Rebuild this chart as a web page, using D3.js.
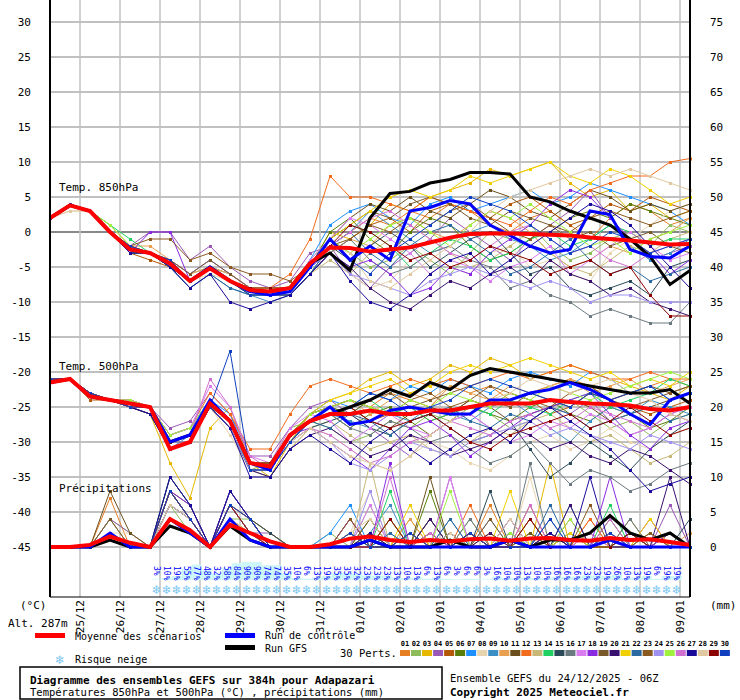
<!DOCTYPE html>
<html><head><meta charset="utf-8">
<script src="https://cdn.jsdelivr.net/npm/d3@7"></script>
<style>body{margin:0;background:#fff}svg{font-family:"DejaVu Sans Mono",monospace}</style>
</head><body><svg id="c" width="740" height="700"></svg>
<script>
const hours = d3.range(0, 385, 12);
const dateLabels = ["25/12","26/12","27/12","28/12","29/12","30/12","31/12","01/01","02/01","03/01","04/01","05/01","06/01","07/01","08/01","09/01"];
const leftTicks = [30,25,20,15,10,5,0,-5,-10,-15,-20,-25,-30,-35,-40,-45];
const rightTicks = [75,70,65,60,55,50,45,40,35,30,25,20,15,10,5,0];
const memberColors = ["#e67e22","#8fbc5a","#e6b800","#9b59b6","#b35806","#5a7d0a","#1e90ff","#e8d5b0","#3b8fc4","#e8a050","#6b4f1d","#f26b1d","#c8b878","#20d060","#2a4a5a","#6a7a80","#d97cf0","#8a2be2","#7a5a2a","#3a1070","#f0d000","#2a6aa0","#8a5a20","#a090f0","#a0f040","#d070d0","#1a0a9a","#e0c8a0","#8b0000","#1040c0"];
const snowPct = [3,10,19,55,77,48,32,58,84,90,90,74,74,35,10,6,13,19,35,35,32,23,23,23,13,10,13,6,13,6,3,6,6,3,16,10,10,13,10,10,16,16,16,23,23,19,26,10,13,19,6,19,19];

const meanT850 = [2,3.8,3,0,-2.5,-3,-4.5,-7,-5.2,-7,-8.3,-8.5,-8,-4.5,-2.2,-2.3,-2.8,-2.5,-2.2,-1.5,-0.8,-0.3,-0.2,-0.2,-0.3,-0.4,-0.5,-0.8,-1,-1.2,-1.5,-1.8,-1.7];
const gfsT850 = [2,3.8,3,0,-2.5,-3,-4.5,-7,-5,-7,-8.5,-8.5,-8,-4.5,-3,-5.5,2,5.5,5.8,7,7.5,8.5,8.5,8.3,5,4.3,3,2,1,-1,-3.5,-7.5,-5.5];
const ctlT850 = [2,3.8,3,0,-2.5,-3,-4.5,-7,-5,-7,-8.5,-9,-8.5,-5,-1,-4,-2,-4,3,3.5,4.5,4,1,-0.5,-2,-3,-2.5,3,2.5,-2.5,-3.5,-3.7,-2];
const meanT500 = [-21.5,-21,-23.5,-24,-24.5,-25,-31,-30,-24.5,-27,-33,-33.5,-29,-27,-26,-26,-25.5,-26,-26,-25.5,-25.5,-25,-24.5,-24.5,-24.5,-24,-24.3,-24.5,-24.6,-24.8,-25.3,-25.5,-25];
const gfsT500 = [-21.5,-21,-23.5,-24,-24.5,-25,-30,-29,-24.5,-27,-33,-33.5,-29,-27,-26,-25,-24,-22.5,-23.5,-21.5,-22.5,-20.5,-19.5,-20,-20.5,-21,-21.5,-22,-22.5,-23,-23,-22.5,-24.5];
const ctlT500 = [-21.5,-21,-23.5,-24,-24.5,-25,-30,-29,-24,-27,-33,-34,-29,-27,-25,-27.5,-27,-25.5,-25,-25.5,-26,-26,-24,-24,-23,-22.5,-21.5,-22.5,-24,-26,-27.5,-24,-23];
const meanPrecip = [0,0,0.3,1.5,0.6,0,4,2.4,0,3.2,2,0.8,0,0,0.4,1.2,1.5,1,0.7,1,0.8,1.1,1.2,0.9,1.2,1.3,1,0.9,1.3,1,1.1,0.7,0.3];
const gfsPrecip = [0,0,0,1,0,0,3,2,0,3,1,0,0,0,0,0,1,0,0,0,1,0,0,1,0,1,1,2,4.5,2,1,2,0];
const ctlPrecip = [0,0,0,2,0,0,4,2,0,4,1,0,0,0,0,0,1,0,0,0,0,0,0,1,0,0,0,0,1,0,0,0,0];

const pertT850 = [
"2 4 3 0 -3 -3 -5 -7 -5 -7 -8 -9 -8 -5 -2 0 2 1 3 2 4 3 1 0 2 3 1 -1 2 4 3 1 2",
"2 4 3 0 -2 -3 -4 -6 -5 -7 -9 -9 -8 -4 -1 -3 -5 -4 -2 -4 -6 -3 0 -1 1 -2 -4 -3 -1 0 -2 1 0",
"2 4 3 1 -2 -3 -4 -7 -5 -7 -8 -8 -8 -5 0 -1 1 4 3 5 6 7 9 8 9 10 7 5 6 3 4 2 3",
"2 4 3 0 -2 0 0 -4 -2 -5 -7 -8 -7 -3 -2 -6 -8 -5 -3 -1 2 0 -2 -4 -1 1 3 6 2 -1 -4 -3 -2",
"2 4 3 0 -3 -4 -5 -7 -5 -6 -8 -9 -9 -6 -3 -1 1 2 0 3 4 3 2 4 5 3 1 2 4 3 5 4 3",
"2 4 3 0 -2 -3 -5 -7 -5 -7 -8 -8 -8 -5 0 2 -1 -3 0 2 1 -2 -4 -3 -1 0 2 3 2 4 3 2 1",
"2 4 3 0 -2 -3 -4 -6 -4 -6 -8 -9 -8 -4 1 3 4 2 1 4 5 3 4 5 6 4 5 7 6 5 4 3 1",
"2 3 3 1 -2 -3 -4 -7 -6 -7 -9 -9 -9 -6 -3 -6 -8 -7 -4 -3 -5 -6 -3 -2 -5 -4 -6 -7 -3 -1 1 3 4",
"2 4 3 0 -2 -3 -5 -8 -6 -8 -9 -10 -9 -6 -2 0 3 1 -1 -3 -2 0 1 -1 -2 -4 -3 -1 1 -2 -4 -3 -1",
"2 4 3 0 -2 -2 -4 -6 -5 -6 -8 -8 -8 -5 -3 -1 -2 1 2 0 -1 1 3 2 0 -3 -5 -4 -2 -3 -1 0 2",
"2 4 3 0 -3 -3 -5 -7 -5 -7 -8 -9 -8 -5 -1 2 4 3 5 3 2 4 6 5 3 2 4 6 5 3 4 3 4",
"2 4 3 0 -2 -3 -4 -7 -5 -7 -8 -8 -6 -1 8 5 5 4 3 5 4 3 2 1 3 5 4 6 7 8 8 10 10.5",
"2 4 3 0 -2 -3 -5 -7 -5 -6 -8 -9 -9 -6 -4 -6 -3 -1 1 -1 -3 -5 -4 -2 0 -3 -5 -6 -4 -2 -3 -1 0",
"2 4 3 1 -1 -3 -4 -7 -5 -7 -8 -8 -8 -5 -1 1 0 -2 -5 -3 -1 -2 -4 -3 -1 0 -2 -1 1 0 -2 -1 -1",
"2 4 3 0 -3 -3 -5 -7 -5 -7 -9 -9 -8 -5 -2 -4 -2 0 -2 -5 -3 -1 0 -3 -6 -5 -8 -9 -8 -7 -9 -5 -4",
"2 4 3 0 -2 -3 -4 -7 -5 -7 -8 -9 -9 -6 -3 -1 -4 -6 -5 -3 -2 -4 -5 -8 -7 -9 -10 -12 -11 -12 -13 -13 -10",
"2 4 3 0 -2 -3 -4 -6 -4 -6 -8 -8 -8 -4 -1 2 1 -1 -3 -6 -4 -5 -7 -5 -4 -2 -6 -4 -2 0 -2 -4 -3",
"2 4 3 0 -3 0 0 -7 -5 -7 -8 -9 -8 -5 -3 -5 -4 -6 -9 -8 -5 -6 -3 -1 1 4 6 5 2 -1 -3 -6 -4",
"2 4 3 0 -2 -3 -4 -6 -4 -6 -8 -8 -8 -5 -1 1 3 2 4 5 4 2 1 3 2 1 -1 0 -2 -1 0 -2 -3",
"2 4 3 0 -2 -3 -5 -7 -5 -7 -8 -9 -9 -6 -3 -5 -8 -10 -11 -9 -7 -8 -6 -5 -7 -4 -6 -7 -9 -8 -10 -11 -12",
"2 4 3 0 -2 -3 -4 -7 -5 -7 -8 -8 -8 -5 -1 1 3 5 6 5 6 8 7 8 9 10 8 7 9 8 6 4 5",
"2 4 3 0 -3 -3 -5 -8 -6 -8 -9 -9 -9 -6 -2 0 -3 -5 -2 0 1 -1 -3 -6 -5 -3 -1 -4 -6 -5 -7 -6 -5",
"2 4 3 0 -2 -1 -1 -4 -3 -5 -6 -6 -7 -5 -2 -1 1 0 2 1 3 4 2 0 -1 1 0 2 3 2 1 2 3",
"2 4 3 0 -2 -3 -4 -7 -5 -7 -8 -9 -8 -5 -3 -6 -7 -8 -9 -7 -6 -5 -6 -7 -8 -7 -8 -10 -9 -9 -10 -10 -10",
"2 4 3 1 -2 -3 -4 -7 -5 -7 -8 -8 -8 -5 -1 -3 -1 1 2 0 -2 1 3 2 4 2 0 -2 -1 -3 -1 0 1",
"2 4 3 0 -2 -3 -4 -7 -5 -7 -8 -9 -8 -5 -2 0 2 3 1 -1 -3 -4 -2 0 1 -1 -3 -2 -4 -5 -3 -2 -1",
"2 4 3 0 -3 -3 -5 -8 -6 -10 -11 -10 -9 -6 -3 -7 -10 -11 -9 -6 -4 -3 -6 -4 -2 0 2 4 3 1 -2 -5 -8",
"2 3 3 0 -2 -3 -4 -7 -5 -7 -8 -8 -8 -5 -2 -3 -7 -8 -6 -4 -2 0 3 5 6 7 8 9 8 9 8 7 6",
"2 4 3 0 -2 -3 -4 -7 -5 -7 -8 -8 -8 -5 -2 1 0 -2 -4 -3 -5 -4 -2 -3 -4 -6 -5 -4 -6 -5 -9 -12 -12",
"2 4 3 0 -2 -3 -4 -7 -5 -7 -9 -9 -8 -5 -1 -4 -6 -3 -1 1 3 5 4 3 1 -1 -3 -2 0 -1 -3 -2 -1"];

const pertT500 = [
"-21 -21 -23 -24 -25 -25 -31 -30 -24 -27 -33 -34 -29 -26 -25 -24 -25 -23 -24 -25 -22 -23 -22 -24 -23 -22 -21 -22 -24 -23 -22 -21 -22",
"-21 -21 -23 -24 -24 -25 -29 -28 -25 -28 -34 -33 -28 -27 -28 -30 -29 -27 -28 -26 -27 -25 -26 -28 -27 -25 -24 -26 -28 -27 -29 -27 -26",
"-21 -21 -23 -24 -25 -26 -33 -38 -28 -25 -33 -35 -30 -26 -24 -23 -21 -20 -22 -21 -19 -20 -18 -19 -21 -20 -19 -20 -21 -22 -23 -24 -22",
"-21 -21 -23 -24 -24 -25 -28 -27 -23 -26 -32 -32 -28 -25 -24 -26 -28 -30 -32 -29 -27 -26 -28 -30 -27 -25 -26 -24 -27 -29 -28 -26 -27",
"-21 -21 -24 -24 -25 -25 -30 -29 -24 -27 -33 -34 -29 -27 -26 -25 -27 -26 -25 -27 -26 -24 -25 -23 -24 -26 -25 -23 -24 -25 -26 -25 -24",
"-21 -21 -23 -24 -25 -25 -31 -30 -25 -27 -34 -34 -30 -27 -26 -28 -26 -25 -27 -29 -27 -25 -26 -27 -25 -24 -26 -27 -25 -26 -28 -27 -25",
"-21 -21 -23 -24 -24 -25 -29 -28 -24 -26 -33 -33 -29 -26 -24 -25 -23 -24 -22 -23 -21 -22 -23 -21 -20 -21 -22 -20 -21 -23 -22 -24 -23",
"-21 -21 -23 -24 -25 -25 -30 -30 -25 -29 -34 -35 -31 -28 -29 -31 -33 -34 -32 -30 -31 -33 -34 -32 -30 -29 -31 -30 -28 -30 -31 -29 -28",
"-21 -21 -23 -24 -25 -26 -31 -29 -24 -27 -33 -34 -30 -27 -26 -27 -28 -26 -27 -25 -26 -27 -25 -24 -26 -28 -30 -27 -25 -26 -24 -25 -26",
"-21 -21 -23 -24 -24 -25 -30 -29 -24 -27 -33 -33 -29 -26 -25 -24 -26 -24 -23 -24 -22 -23 -24 -22 -23 -22 -21 -23 -22 -21 -23 -22 -21",
"-21 -21 -23 -24 -25 -26 -30 -30 -25 -28 -34 -34 -29 -27 -26 -25 -27 -28 -26 -25 -26 -24 -25 -27 -26 -25 -24 -25 -27 -26 -25 -24 -23",
"-21 -21 -23 -24 -24 -25 -29 -28 -23 -26 -31 -31 -26 -22 -21 -22 -23 -22 -21 -22 -21 -22 -21 -20 -21 -20 -19 -20 -21 -21 -20 -21 -21",
"-21 -21 -23 -24 -25 -25 -31 -30 -25 -28 -34 -35 -31 -28 -27 -29 -31 -30 -29 -31 -32 -30 -28 -29 -27 -26 -28 -30 -29 -31 -33 -32 -30",
"-21 -21 -23 -24 -25 -25 -30 -29 -24 -27 -33 -33 -29 -27 -25 -26 -24 -26 -25 -27 -26 -25 -26 -24 -25 -26 -24 -23 -25 -24 -23 -21 -22",
"-21 -21 -23 -24 -25 -25 -31 -30 -25 -28 -34 -34 -30 -28 -27 -26 -28 -29 -27 -26 -28 -30 -29 -27 -31 -35 -33 -30 -32 -34 -31 -29 -27",
"-21 -21 -23 -24 -25 -25 -30 -30 -25 -27 -33 -34 -30 -27 -26 -28 -29 -27 -28 -30 -29 -31 -33 -32 -30 -33 -36 -34 -35 -37 -36 -34 -33",
"-21 -21 -23 -24 -24 -25 -29 -28 -22 -25 -32 -33 -28 -26 -27 -30 -28 -26 -28 -29 -27 -26 -28 -30 -29 -27 -28 -26 -27 -29 -28 -26 -25",
"-21 -21 -23 -24 -25 -25 -30 -29 -24 -27 -33 -34 -29 -28 -30 -32 -34 -31 -28 -27 -29 -32 -30 -28 -26 -25 -24 -23 -26 -29 -31 -28 -27",
"-21 -21 -23 -24 -25 -25 -30 -29 -24 -27 -33 -33 -29 -26 -25 -26 -24 -23 -25 -24 -23 -22 -24 -25 -23 -24 -25 -23 -24 -25 -24 -23 -22",
"-21 -21 -23 -24 -25 -26 -31 -30 -25 -28 -34 -35 -31 -29 -28 -30 -32 -31 -29 -30 -32 -31 -30 -28 -29 -31 -30 -32 -33 -31 -32 -34 -36",
"-21 -21 -23 -24 -25 -25 -30 -29 -24 -27 -33 -34 -29 -26 -24 -23 -22 -21 -23 -22 -20 -19 -20 -19 -18 -19 -20 -21 -20 -22 -21 -22 -20",
"-21 -21 -23 -24 -25 -25 -31 -30 -25 -28 -34 -34 -30 -27 -28 -26 -27 -29 -27 -26 -25 -27 -28 -26 -27 -25 -26 -28 -27 -26 -25 -27 -26",
"-21 -21 -23 -24 -25 -25 -30 -29 -24 -27 -33 -33 -29 -26 -25 -24 -25 -26 -24 -23 -25 -24 -22 -23 -24 -25 -23 -22 -24 -23 -22 -23 -22",
"-21 -21 -23 -24 -25 -25 -30 -30 -25 -28 -34 -34 -30 -28 -30 -33 -34 -32 -30 -31 -32 -30 -29 -28 -27 -29 -28 -29 -30 -31 -29 -30 -31",
"-21 -21 -23 -24 -24 -25 -29 -28 -24 -27 -33 -33 -29 -26 -25 -24 -25 -26 -24 -25 -23 -24 -25 -23 -24 -22 -23 -24 -23 -22 -21 -20 -21",
"-21 -21 -23 -24 -25 -25 -30 -29 -21 -25 -32 -34 -30 -28 -29 -31 -33 -32 -30 -29 -27 -28 -29 -27 -26 -28 -27 -25 -26 -27 -28 -26 -25",
"-21 -21 -23 -24 -25 -26 -31 -30 -25 -28 -35 -35 -31 -29 -31 -33 -30 -28 -31 -33 -31 -29 -28 -30 -27 -25 -27 -29 -31 -34 -37 -36 -35",
"-21 -21 -23 -24 -25 -25 -30 -29 -24 -27 -33 -34 -30 -28 -30 -32 -33 -34 -32 -29 -27 -25 -24 -23 -21 -22 -23 -22 -21 -23 -24 -26 -27",
"-21 -21 -23 -24 -25 -25 -30 -29 -24 -27 -33 -33 -29 -27 -26 -25 -27 -28 -27 -26 -28 -30 -31 -29 -28 -27 -26 -28 -27 -25 -27 -29 -28",
"-21 -21 -23 -24 -25 -25 -31 -30 -25 -17 -34 -34 -30 -27 -26 -25 -23 -24 -26 -25 -24 -22 -21 -22 -23 -24 -25 -23 -24 -23 -22 -24 -23"];

const pertPrecip = [
"0 0 0 7 0 0 8 4 0 6 2 0 0 0 0 2 0 4 0 2 0 0 6 0 2 0 0 4 0 2 0 0 0",
"0 0 0 4 2 0 6 2 0 4 4 2 0 0 2 0 6 0 0 2 0 4 0 0 2 0 2 0 0 4 0 2 0",
"0 0 0 2 0 0 10 6 0 8 4 0 0 0 0 0 2 0 4 0 0 2 0 0 0 12 0 2 0 0 2 0 0",
"0 0 0 4 2 0 8 4 0 6 2 2 0 0 0 4 0 0 2 0 10 0 0 2 0 0 4 0 0 2 0 6 0",
"0 0 0 2 0 0 6 4 0 4 2 0 0 0 0 2 0 0 0 4 0 0 2 0 6 0 0 2 0 0 4 0 0",
"0 0 0 2 0 0 8 4 0 6 4 2 0 0 0 0 4 0 0 8 0 2 0 0 0 2 0 0 4 0 0 2 0",
"0 0 0 4 0 0 10 6 0 8 4 0 0 0 2 6 0 2 0 0 2 0 4 0 0 0 2 0 0 2 0 0 0",
"0 0 0 2 2 0 4 2 0 4 2 0 0 0 0 2 8 0 2 0 0 0 2 0 10 0 0 0 2 0 0 0 0",
"0 0 0 2 0 0 8 4 0 6 2 0 0 0 0 0 2 6 0 0 4 0 0 2 0 0 6 0 0 0 2 0 0",
"0 0 0 4 0 0 6 4 0 6 4 2 0 0 0 2 0 0 4 0 0 0 2 0 4 0 0 2 0 4 0 0 2",
"0 0 0 8 2 0 8 6 0 6 2 0 0 0 0 0 0 4 0 10 0 2 0 0 2 0 0 0 2 0 0 0 0",
"0 0 0 2 0 0 8 4 0 6 4 0 0 0 0 4 0 0 2 0 0 6 0 0 0 2 0 4 0 0 0 2 0",
"0 0 0 2 0 0 6 4 0 4 2 0 0 0 0 0 12 0 0 2 0 0 0 4 0 0 2 0 0 0 2 0 0",
"0 0 0 2 0 0 8 4 0 6 2 0 0 0 0 2 0 8 0 0 2 0 0 0 0 4 0 0 6 0 0 0 0",
"0 0 0 2 0 0 10 6 0 8 4 2 0 0 0 0 2 0 0 4 0 0 8 0 0 2 0 0 0 2 0 0 4",
"0 0 0 2 0 0 6 4 0 6 2 0 0 0 0 2 0 0 2 0 0 4 0 0 12 0 2 0 0 4 0 2 0",
"0 0 0 2 0 0 8 4 0 6 4 0 0 0 0 0 6 0 0 0 10 0 0 2 0 0 0 2 0 0 4 0 0",
"0 0 0 2 0 0 8 6 0 8 4 0 0 0 0 4 0 12 0 2 0 0 0 4 0 2 0 0 10 0 0 2 0",
"0 0 0 4 0 0 8 4 0 6 2 0 0 0 0 0 4 0 2 0 0 2 0 0 4 0 0 0 2 0 0 0 0",
"0 0 0 2 0 0 6 4 0 6 2 0 0 0 0 2 0 0 0 4 0 0 2 0 0 0 6 0 0 2 0 10 0",
"0 0 0 2 0 0 4 2 0 4 2 0 0 0 0 0 2 0 6 0 2 0 0 8 0 0 2 0 0 0 4 0 0",
"0 0 0 2 0 0 8 4 0 6 2 0 0 0 0 0 0 2 0 0 4 0 0 2 0 6 0 0 2 0 0 0 0",
"0 0 0 2 0 0 8 4 0 6 4 0 0 0 0 4 0 0 0 2 0 0 4 0 0 2 0 6 0 0 2 0 0",
"0 0 0 2 0 0 6 4 0 6 2 0 0 0 0 0 8 0 0 0 0 2 0 0 0 4 0 0 2 0 0 0 0",
"0 0 0 2 0 0 8 4 0 6 2 0 0 0 0 2 0 4 0 0 8 0 0 2 0 0 4 0 0 2 0 0 0",
"0 0 0 2 0 0 8 4 0 6 2 0 0 0 0 0 0 10 0 2 0 0 0 0 6 0 0 0 4 0 0 0 0",
"0 0 0 2 0 0 10 6 0 8 4 0 0 0 0 0 2 0 0 0 2 0 0 0 0 2 0 10 0 0 0 0 0",
"0 0 0 2 0 0 6 4 0 4 2 0 0 0 0 2 4 0 0 0 2 0 0 4 0 0 0 0 2 0 0 0 0",
"0 0 0 2 0 0 8 4 0 6 2 0 0 0 0 0 0 4 0 0 0 2 0 0 4 0 0 0 0 2 0 0 0",
"0 0 0 2 0 0 8 4 0 6 4 0 0 0 0 2 0 0 2 0 0 2 0 0 0 4 0 0 2 0 0 0 0"];

const parse = s => s.split(" ").map(Number);
const svg = d3.select("#c");
const X0 = 50, X1 = 690, YB = 597;
const x = d3.scaleLinear().domain([0, 384]).range([X0, X1]);
const yT = d3.scaleLinear().domain([-45, 30]).range([547, 22]);
const yP = d3.scaleLinear().domain([0, 75]).range([547, 22]);

const g = svg.append("g");
g.selectAll(".hg").data(leftTicks).join("line")
  .attr("x1", X0).attr("x2", X1).attr("y1", d => yT(d)).attr("y2", d => yT(d))
  .attr("stroke", d => d === 0 ? "#888" : "#c0c0c0").attr("stroke-width", 2);
const dayHours = dateLabels.map((d, i) => 18 + 24 * i);
g.selectAll(".vg").data(dayHours).join("line")
  .attr("x1", d => x(d)).attr("x2", d => x(d)).attr("y1", 0).attr("y2", YB)
  .attr("stroke", "#c0c0c0").attr("stroke-width", 1.5);

svg.append("g").selectAll("text").data(leftTicks).join("text")
  .attr("x", 31).attr("y", d => yT(d) + 4).attr("text-anchor", "end").attr("font-size", 11).text(d => d);
svg.append("g").selectAll("text").data(rightTicks).join("text")
  .attr("x", 710).attr("y", d => yP(d) + 4).attr("font-size", 11).text(d => d);
svg.append("g").selectAll("text").data(dateLabels).join("text")
  .attr("transform", (d, i) => `translate(${x(dayHours[i]) + 4},600) rotate(-90)`)
  .attr("text-anchor", "end").attr("font-size", 11).text(d => d);

const sx = i => x(64 + 6 * i);
svg.append("g").selectAll("rect").data(snowPct).join("rect")
  .attr("x", (d, i) => sx(i) - 5).attr("width", 10).attr("y", d => 580 - d * 0.2).attr("height", d => d * 0.2)
  .attr("fill", "#ccf6f8");
svg.append("g").selectAll("text").data(snowPct).join("text")
  .attr("transform", (d, i) => `translate(${sx(i) - 3},566) rotate(90)`)
  .attr("font-size", 8).attr("fill", "#0000ff").text(d => d + "%");
svg.append("g").selectAll("text").data(snowPct).join("text")
  .attr("x", (d, i) => sx(i)).attr("y", 594).attr("text-anchor", "middle")
  .attr("font-size", 12).attr("fill", "#7cc8f0").attr("font-family", "DejaVu Sans").text("❄");

const lineT = d3.line().x((d, i) => x(hours[i])).y(d => yT(d));
const lineP = d3.line().x((d, i) => x(hours[i])).y(d => yP(d));
const pl = svg.append("g");
function member(data, line, y, col) {
  pl.append("path").attr("d", line(data)).attr("fill", "none").attr("stroke", col).attr("stroke-width", 1);
  pl.append("g").selectAll("rect").data(data).join("rect")
    .attr("x", (d, i) => x(hours[i]) - 1).attr("y", d => y(d) - 1).attr("width", 3).attr("height", 3).attr("fill", col);
}
pertPrecip.forEach((s, i) => member(parse(s), lineP, yP, memberColors[i]));
pertT500.forEach((s, i) => member(parse(s), lineT, yT, memberColors[i]));
pertT850.forEach((s, i) => member(parse(s), lineT, yT, memberColors[i]));
const big = (data, line, col, w) => pl.append("path").attr("d", line(data)).attr("fill", "none").attr("stroke", col).attr("stroke-width", w);
big(gfsPrecip, lineP, "#000", 3); big(gfsT500, lineT, "#000", 3); big(gfsT850, lineT, "#000", 3);
big(ctlPrecip, lineP, "#0000ff", 3); big(ctlT500, lineT, "#0000ff", 3); big(ctlT850, lineT, "#0000ff", 3);
big(meanPrecip, lineP, "#ff0000", 4); big(meanT500, lineT, "#ff0000", 4); big(meanT850, lineT, "#ff0000", 4);

svg.append("line").attr("x1", X0).attr("x2", X0).attr("y1", 0).attr("y2", YB).attr("stroke", "#000").attr("stroke-width", 2);
svg.append("line").attr("x1", X1).attr("x2", X1).attr("y1", 0).attr("y2", YB).attr("stroke", "#000").attr("stroke-width", 2);
svg.append("line").attr("x1", X0).attr("x2", X1).attr("y1", YB).attr("y2", YB).attr("stroke", "#000").attr("stroke-width", 1);

const txt = (t, xx, yy, o = {}) => svg.append("text").attr("x", xx).attr("y", yy).attr("font-size", o.s || 11)
  .attr("font-weight", o.b ? "bold" : null).attr("text-anchor", o.a || "start").attr("font-family", o.f || null).text(t);
txt("Temp. 850hPa", 59, 191); txt("Temp. 500hPa", 59, 370); txt("Précipitations", 59, 492);
txt("(°C)", 20, 609); txt("(mm)", 710, 609); txt("Alt. 287m", 8, 627);

svg.append("rect").attr("x", 35).attr("y", 633).attr("width", 30).attr("height", 5).attr("fill", "#ff0000");
txt("Moyenne des scénarios", 75, 640, {s: 10});
svg.append("rect").attr("x", 225).attr("y", 633).attr("width", 30).attr("height", 5).attr("fill", "#0000ff");
txt("Run de contrôle", 265, 639, {s: 10});
svg.append("rect").attr("x", 225).attr("y", 645).attr("width", 30).attr("height", 5).attr("fill", "#000");
txt("Run GFS", 265, 652, {s: 10});
txt("❄", 60, 664, {a: "middle", f: "DejaVu Sans", s: 12}).attr("fill", "#7cc8f0");
txt("Risque neige", 75, 663, {s: 10});
txt("30 Perts.", 340, 657, {s: 10.5});
const leg = svg.append("g");
memberColors.forEach((c, i) => {
  const lx = 400 + i * 11.03;
  leg.append("text").attr("x", lx + 5).attr("y", 646).attr("text-anchor", "middle").attr("font-size", 7).attr("font-weight", "bold")
    .text(String(i + 1).padStart(2, "0"));
  leg.append("rect").attr("x", lx).attr("y", 650).attr("width", 10).attr("height", 6).attr("fill", c);
});
svg.append("rect").attr("x", 20).attr("y", 667).attr("width", 422).attr("height", 32).attr("fill", "none").attr("stroke", "#000").attr("stroke-width", 1.5);
txt("Diagramme des ensembles GEFS sur 384h pour Adapazari", 30, 684, {b: true});
txt("Températures 850hPa et 500hPa (°C) , précipitations (mm)", 30, 696, {s: 10.5});
txt("Ensemble GEFS du 24/12/2025 - 06Z", 450, 682, {s: 10.5});
txt("Copyright 2025 Meteociel.fr", 450, 696, {b: true});
</script></body></html>
